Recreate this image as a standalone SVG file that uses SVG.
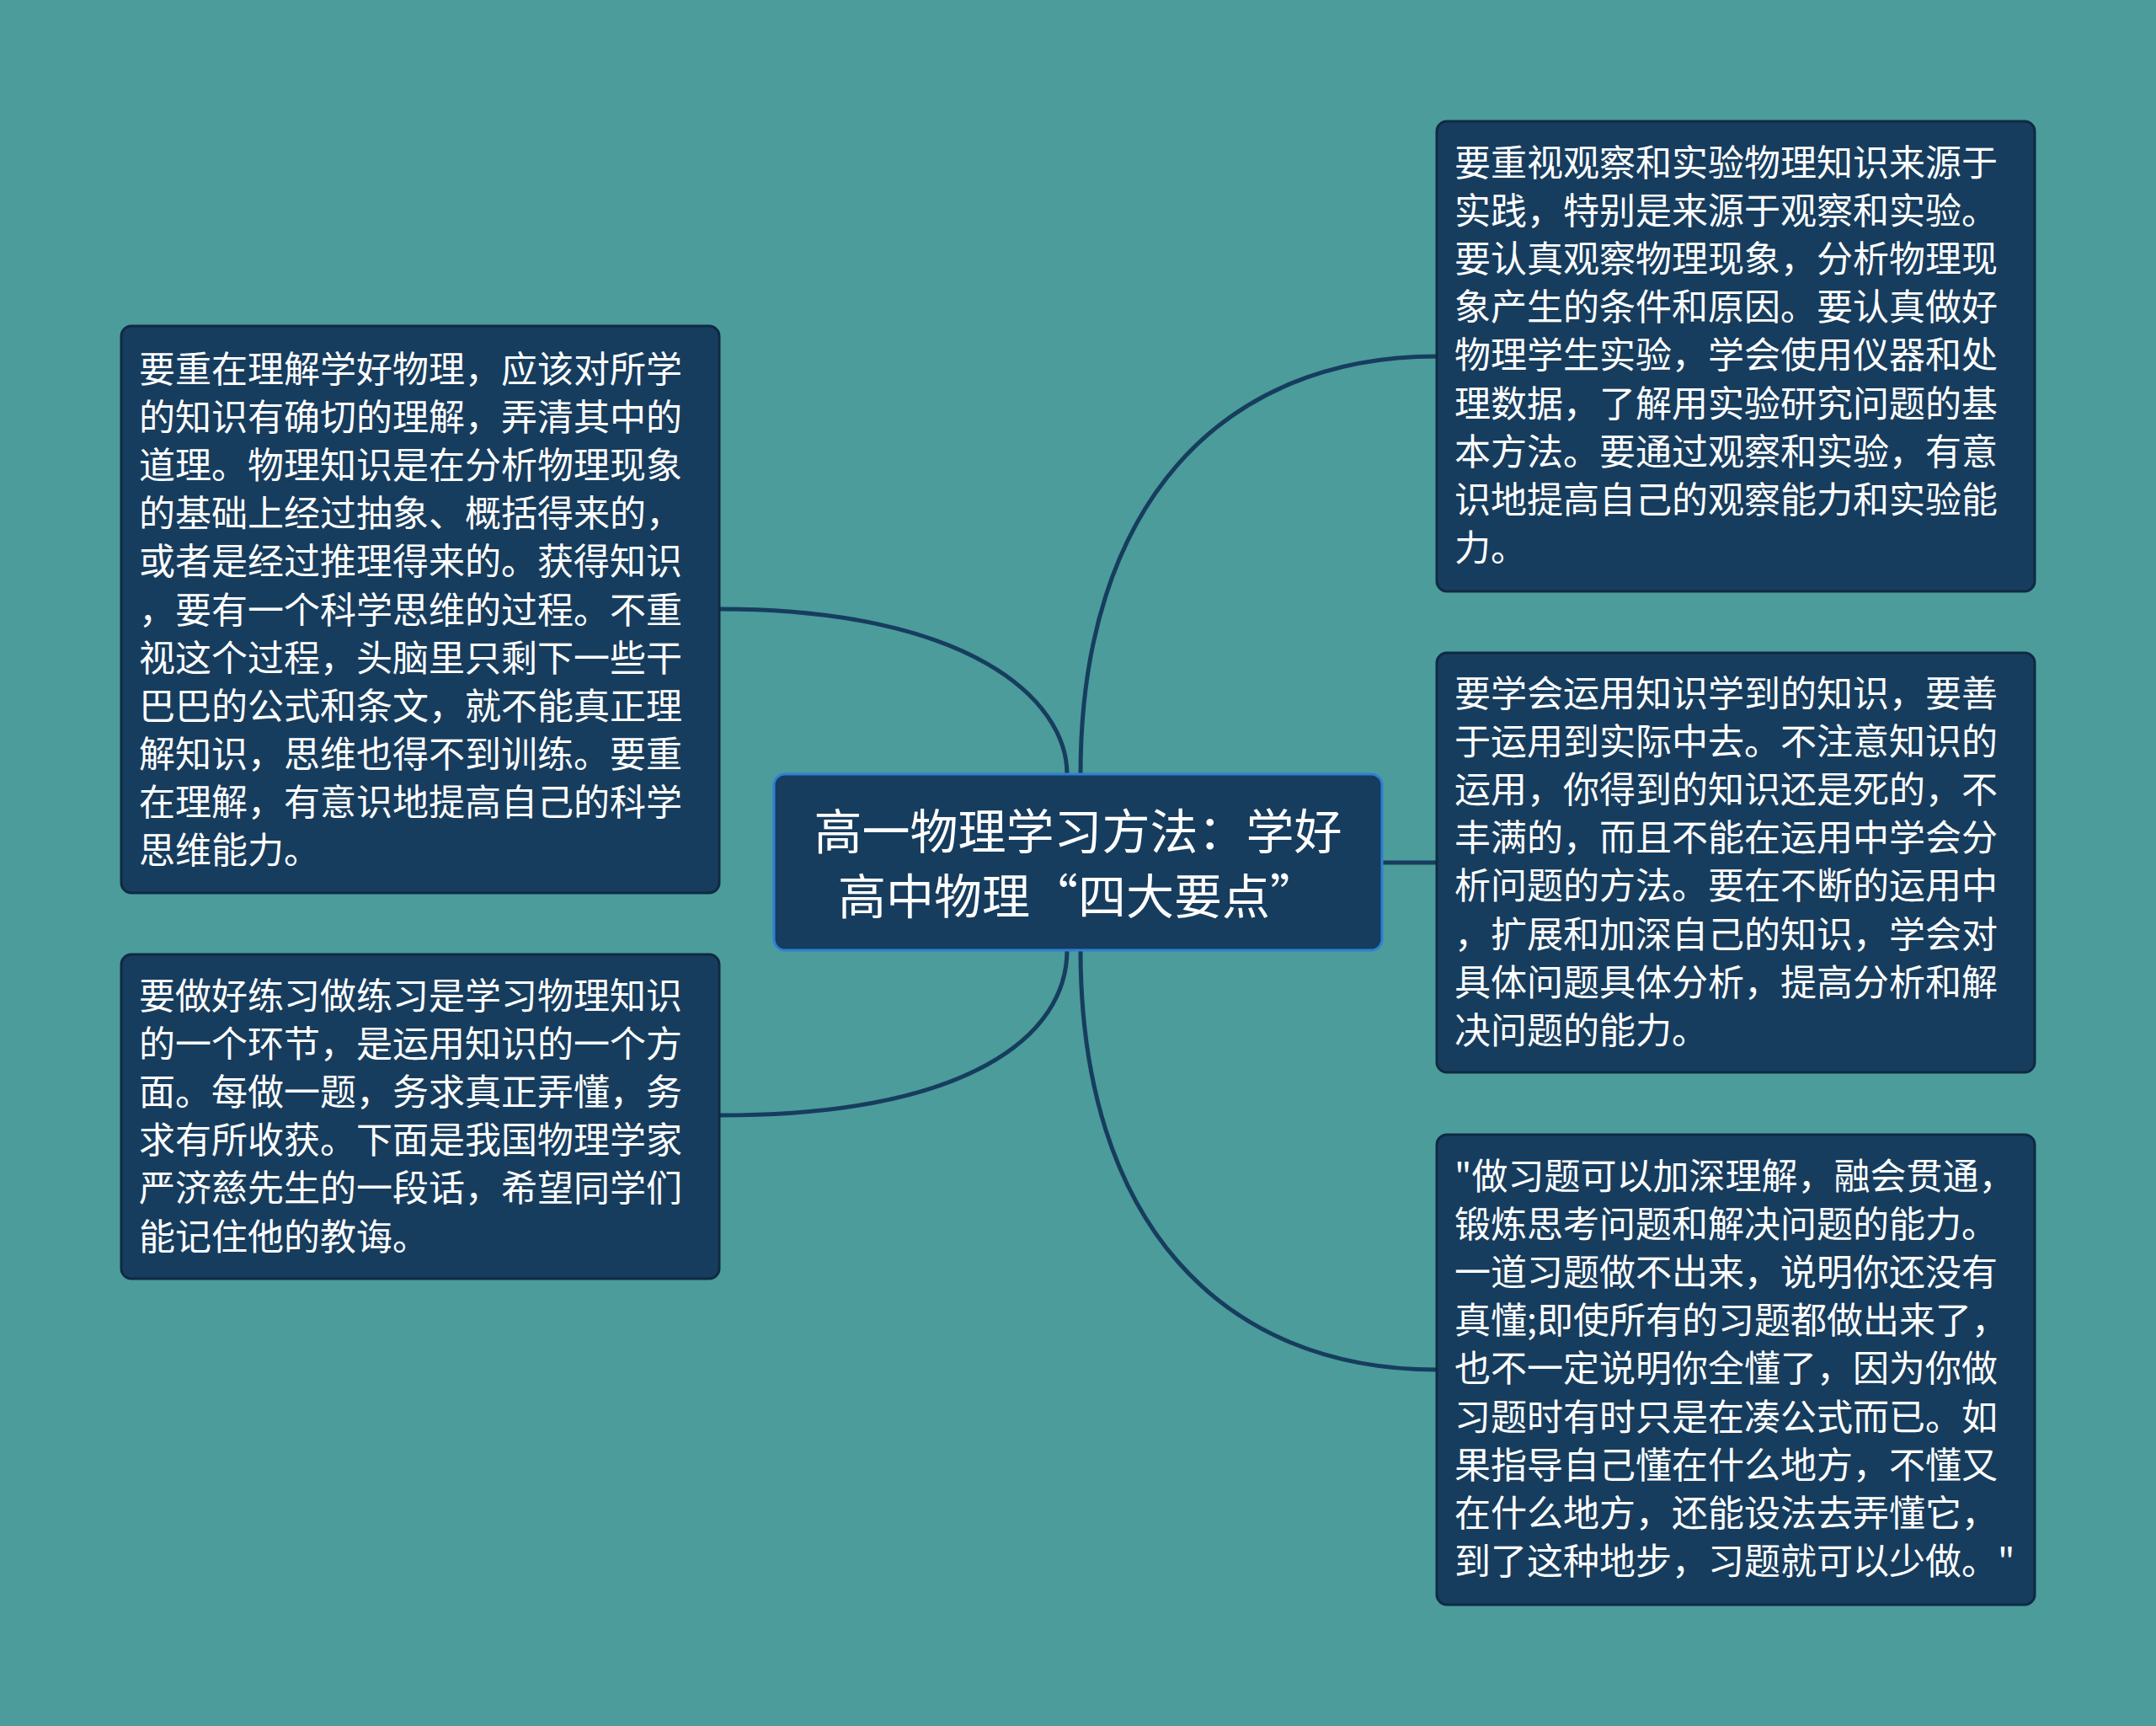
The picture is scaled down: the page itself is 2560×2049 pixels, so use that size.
<svg xmlns="http://www.w3.org/2000/svg" width="2560" height="2049" viewBox="0 0 2560 2049">
<style>
.node{fill:#173d5e;stroke:#0f2a42;stroke-width:3}
.root{fill:#173d5e;stroke:#2f7fd6;stroke-width:3}
.t{font-family:"Noto Sans CJK SC","Noto Sans",sans-serif;font-size:43px;fill:#ffffff}
.rt{font-family:"Noto Sans CJK SC","Noto Sans",sans-serif;font-size:57px;fill:#ffffff;text-anchor:middle}
.c{fill:none;stroke:#173d5e;stroke-width:5;stroke-linecap:round}
</style>
<rect width="2560" height="2049" fill="#4b9c9b"/>
<g id="connectors">
<path class="c" d="M854,723 C1150,723 1267,830 1267,919"/>
<path class="c" d="M1267,1128 C1267,1230 1150,1324 854,1324"/>
<path class="c" d="M1283,919 C1283,600 1450,423 1706,423"/>
<path class="c" d="M1641,1024 L1706,1024"/>
<path class="c" d="M1283,1128 C1283,1450 1450,1626 1706,1626"/>
</g>
<g id="root">
<rect class="root" x="919" y="919" width="722" height="209" rx="13"/>
<text class="rt" x="1280" y="1008">高一物理学习方法：学好</text>
<text class="rt" x="1280" y="1085">高中物理“四大要点”</text>
</g>
<g id="left1">
<rect class="node" x="144" y="387" width="710" height="673" rx="12"/>
<text class="t" x="165" y="454">要重在理解学好物理，应该对所学</text>
<text class="t" x="165" y="511">的知识有确切的理解，弄清其中的</text>
<text class="t" x="165" y="568">道理。物理知识是在分析物理现象</text>
<text class="t" x="165" y="625">的基础上经过抽象、概括得来的，</text>
<text class="t" x="165" y="682">或者是经过推理得来的。获得知识</text>
<text class="t" x="165" y="740">，要有一个科学思维的过程。不重</text>
<text class="t" x="165" y="797">视这个过程，头脑里只剩下一些干</text>
<text class="t" x="165" y="854">巴巴的公式和条文，就不能真正理</text>
<text class="t" x="165" y="911">解知识，思维也得不到训练。要重</text>
<text class="t" x="165" y="968">在理解，有意识地提高自己的科学</text>
<text class="t" x="165" y="1025">思维能力。</text>
</g>
<g id="left2">
<rect class="node" x="144" y="1133" width="710" height="385" rx="12"/>
<text class="t" x="165" y="1198">要做好练习做练习是学习物理知识</text>
<text class="t" x="165" y="1255">的一个环节，是运用知识的一个方</text>
<text class="t" x="165" y="1312">面。每做一题，务求真正弄懂，务</text>
<text class="t" x="165" y="1369">求有所收获。下面是我国物理学家</text>
<text class="t" x="165" y="1426">严济慈先生的一段话，希望同学们</text>
<text class="t" x="165" y="1484">能记住他的教诲。</text>
</g>
<g id="right1">
<rect class="node" x="1706" y="144" width="710" height="558" rx="12"/>
<text class="t" x="1727" y="209">要重视观察和实验物理知识来源于</text>
<text class="t" x="1727" y="266">实践，特别是来源于观察和实验。</text>
<text class="t" x="1727" y="323">要认真观察物理现象，分析物理现</text>
<text class="t" x="1727" y="380">象产生的条件和原因。要认真做好</text>
<text class="t" x="1727" y="437">物理学生实验，学会使用仪器和处</text>
<text class="t" x="1727" y="495">理数据，了解用实验研究问题的基</text>
<text class="t" x="1727" y="552">本方法。要通过观察和实验，有意</text>
<text class="t" x="1727" y="609">识地提高自己的观察能力和实验能</text>
<text class="t" x="1727" y="666">力。</text>
</g>
<g id="right2">
<rect class="node" x="1706" y="775" width="710" height="498" rx="12"/>
<text class="t" x="1727" y="839">要学会运用知识学到的知识，要善</text>
<text class="t" x="1727" y="896">于运用到实际中去。不注意知识的</text>
<text class="t" x="1727" y="953">运用，你得到的知识还是死的，不</text>
<text class="t" x="1727" y="1010">丰满的，而且不能在运用中学会分</text>
<text class="t" x="1727" y="1067">析问题的方法。要在不断的运用中</text>
<text class="t" x="1727" y="1125">，扩展和加深自己的知识，学会对</text>
<text class="t" x="1727" y="1182">具体问题具体分析，提高分析和解</text>
<text class="t" x="1727" y="1239">决问题的能力。</text>
</g>
<g id="right3">
<rect class="node" x="1706" y="1347" width="710" height="558" rx="12"/>
<text class="t" x="1727" y="1412">"做习题可以加深理解，融会贯通，</text>
<text class="t" x="1727" y="1469">锻炼思考问题和解决问题的能力。</text>
<text class="t" x="1727" y="1526">一道习题做不出来，说明你还没有</text>
<text class="t" x="1727" y="1583">真懂;即使所有的习题都做出来了，</text>
<text class="t" x="1727" y="1640">也不一定说明你全懂了，因为你做</text>
<text class="t" x="1727" y="1698">习题时有时只是在凑公式而已。如</text>
<text class="t" x="1727" y="1755">果指导自己懂在什么地方，不懂又</text>
<text class="t" x="1727" y="1812">在什么地方，还能设法去弄懂它，</text>
<text class="t" x="1727" y="1869">到了这种地步，习题就可以少做。"</text>
</g>
</svg>
